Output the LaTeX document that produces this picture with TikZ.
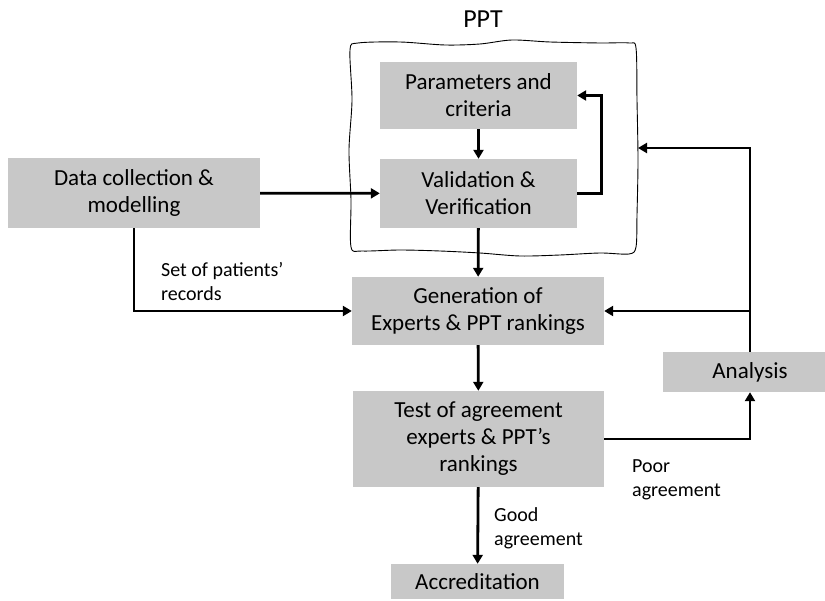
\documentclass[tikz,border=0pt]{standalone}
\usepackage{fontspec}
\setmainfont{Carlito}
\usepackage{tikz}
\usetikzlibrary{arrows.meta}
\definecolor{boxgray}{RGB}{200,200,200}

\begin{document}
\begin{tikzpicture}[x=1pt,y=-1pt,
    box/.style={fill=boxgray, inner sep=0pt, align=center, font=\fontsize{23}{27}\selectfont},
    lbl/.style={inner sep=0pt, align=left, anchor=north west, font=\fontsize{20}{24}\selectfont},
    flow/.style={line width=2.8pt, -{Triangle[length=9pt,width=10pt]}}]
    \useasboundingbox (0,0) rectangle (825,601);
    % wavy frame of the tool
    \def\pptFrame{plot [smooth cycle, tension=0.5] coordinates {
        (358,43) (400,42) (445,45) (480,44) (512,40) (550,42) (600,43) (629,43)
        (636,48) (637,100) (638,160) (637,215) (636,247)
        (629,254) (600,253) (560,255) (520,256) (480,253) (440,251) (400,250) (362,251)
        (351,247) (351,200) (349,150) (352,100) (350,50)}}
    \draw [line width=0.9pt] \pptFrame;
    \node (ppt) [font=\fontsize{26}{30}\selectfont] at (483,19){PPT};
    \coordinate (pptin) at (638,148);
    % boxes
    \node (param) [box, minimum width=197, minimum height=67] at (478.5,95.5){Parameters and\\criteria};
    \node (valid) [box, minimum width=197, minimum height=69] at (478.5,193.5){Validation \&\\Verification};
    \node (data) [box, minimum width=252, minimum height=70] at (134,193){Data collection \&\\modelling};
    \node (gen) [box, minimum width=252, minimum height=68] at (478,311){Generation of\\Experts \& PPT rankings};
    \node (test) [box, minimum width=251, minimum height=96] at (478.5,439){Test of agreement\\experts \& PPT’s\\rankings};
    \node (accr) [box, minimum width=173, minimum height=35] at (477.5,581.5){Accreditation};
    \node (anal) [box, minimum width=174, minimum height=40] at (750,372){Analysis};
    % labels
    \node (patients) [lbl] at (161,262){Set of patients’\\records};
    \node (poor) [lbl] at (632,459){Poor\\agreement};
    \node (good) [lbl] at (494,507){Good\\agreement};
    % connectors
    \draw [flow] (param) -- (valid);
    \draw [flow] (data) -- (valid);
    \draw [flow] (valid.east) -- ++(24,0) |- (param.east);
    \draw [flow] (valid) -- (gen);
    \draw [flow] (data.south) |- (gen.west);
    \draw [flow] (gen) -- (test);
    \draw [flow] (test.east) -| (anal.south);
    \draw [flow] (anal.north) |- (gen.east);
    \draw [flow] (anal.north) |- (pptin);
    \draw [flow] (test) -- (accr);
\end{tikzpicture}
\end{document}
